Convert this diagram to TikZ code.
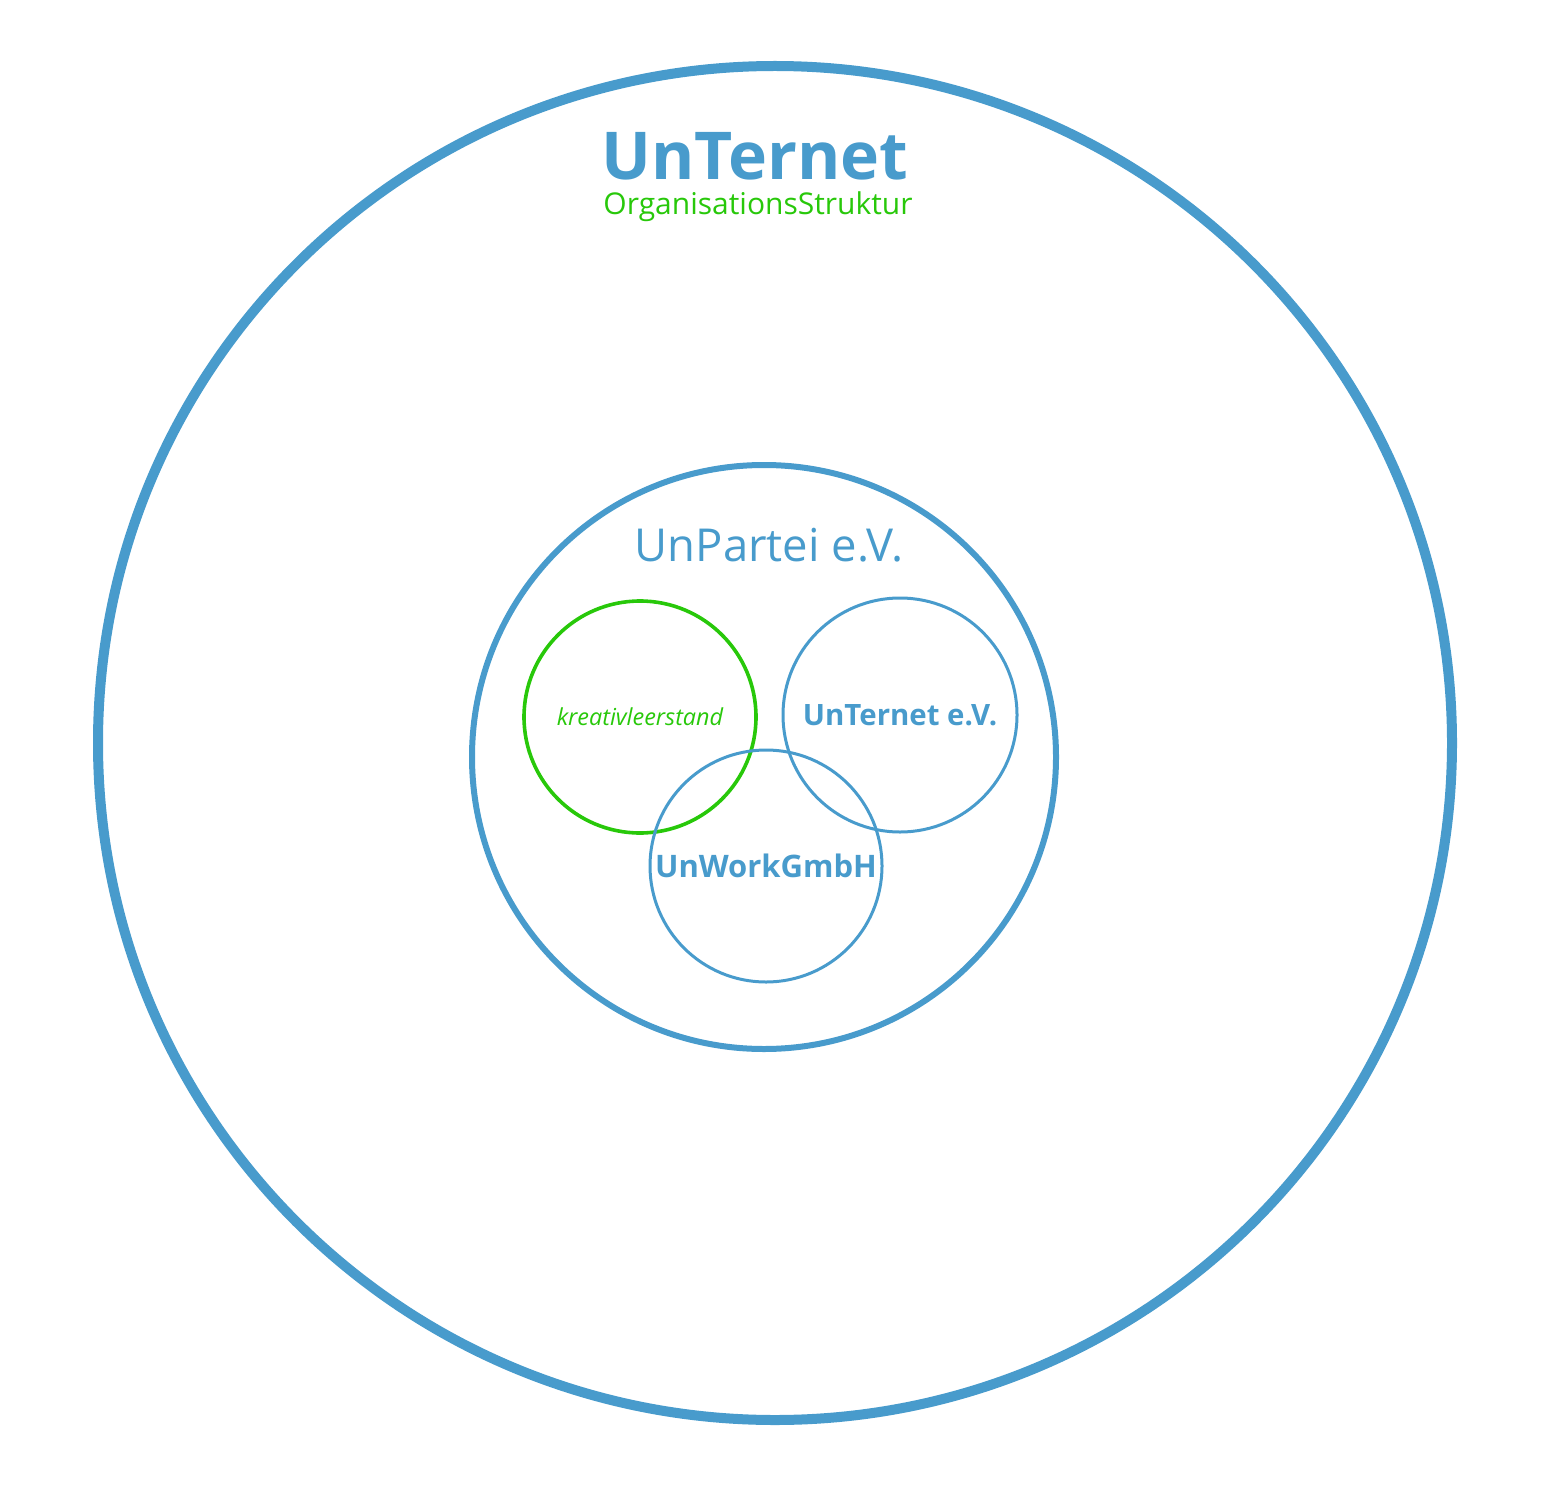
\documentclass[tikz,border=0pt]{standalone}
\usepackage{fontspec}
\setmainfont{Open Sans}
\usepackage{xcolor}
\definecolor{unblue}{RGB}{72,155,204}
\definecolor{ungreen}{RGB}{40,200,10}

\begin{document}
\begin{tikzpicture}[x=0.5pt,y=-0.5pt,
  ring/.style={circle,draw=unblue,inner sep=0pt},
  orgname/.style={text=unblue,font=\bfseries\fontsize{14.7}{16}\selectfont}]
\useasboundingbox (0,0) rectangle (1546,1492);
% outer circle and title
\node[ring,line width=5pt,minimum size=677pt] (unternet) at (775,743) {};
\node[text=unblue,font=\bfseries\fontsize{33}{38}\selectfont,anchor=base,inner sep=0pt] (title) at (755,180) {UnTernet};
\node[text=ungreen,font=\fontsize{15}{17}\selectfont,anchor=base,inner sep=0pt] (subtitle) at (758,215) {OrganisationsStruktur};
% UnPartei
\node[ring,line width=3pt,minimum size=292pt] (unpartei) at (764,757) {};
\node[text=unblue,font=\fontsize{22.7}{26}\selectfont] (parteiname) at (769,545) {UnPartei e.V.};
% the three inner circles
\node[ring,draw=ungreen,line width=1.8pt,minimum size=116pt,text=ungreen,font=\itshape\fontsize{11.7}{13}\selectfont] (kreativ) at (640,717) {kreativleerstand};
\node[ring,line width=1.5pt,minimum size=117pt,orgname] (verein) at (900,715) {UnTernet e.V.};
\node[ring,line width=1.5pt,minimum size=116pt,orgname,font=\bfseries\fontsize{15.5}{18}\selectfont] (unwork) at (766,866) {UnWorkGmbH};
\end{tikzpicture}
\end{document}
